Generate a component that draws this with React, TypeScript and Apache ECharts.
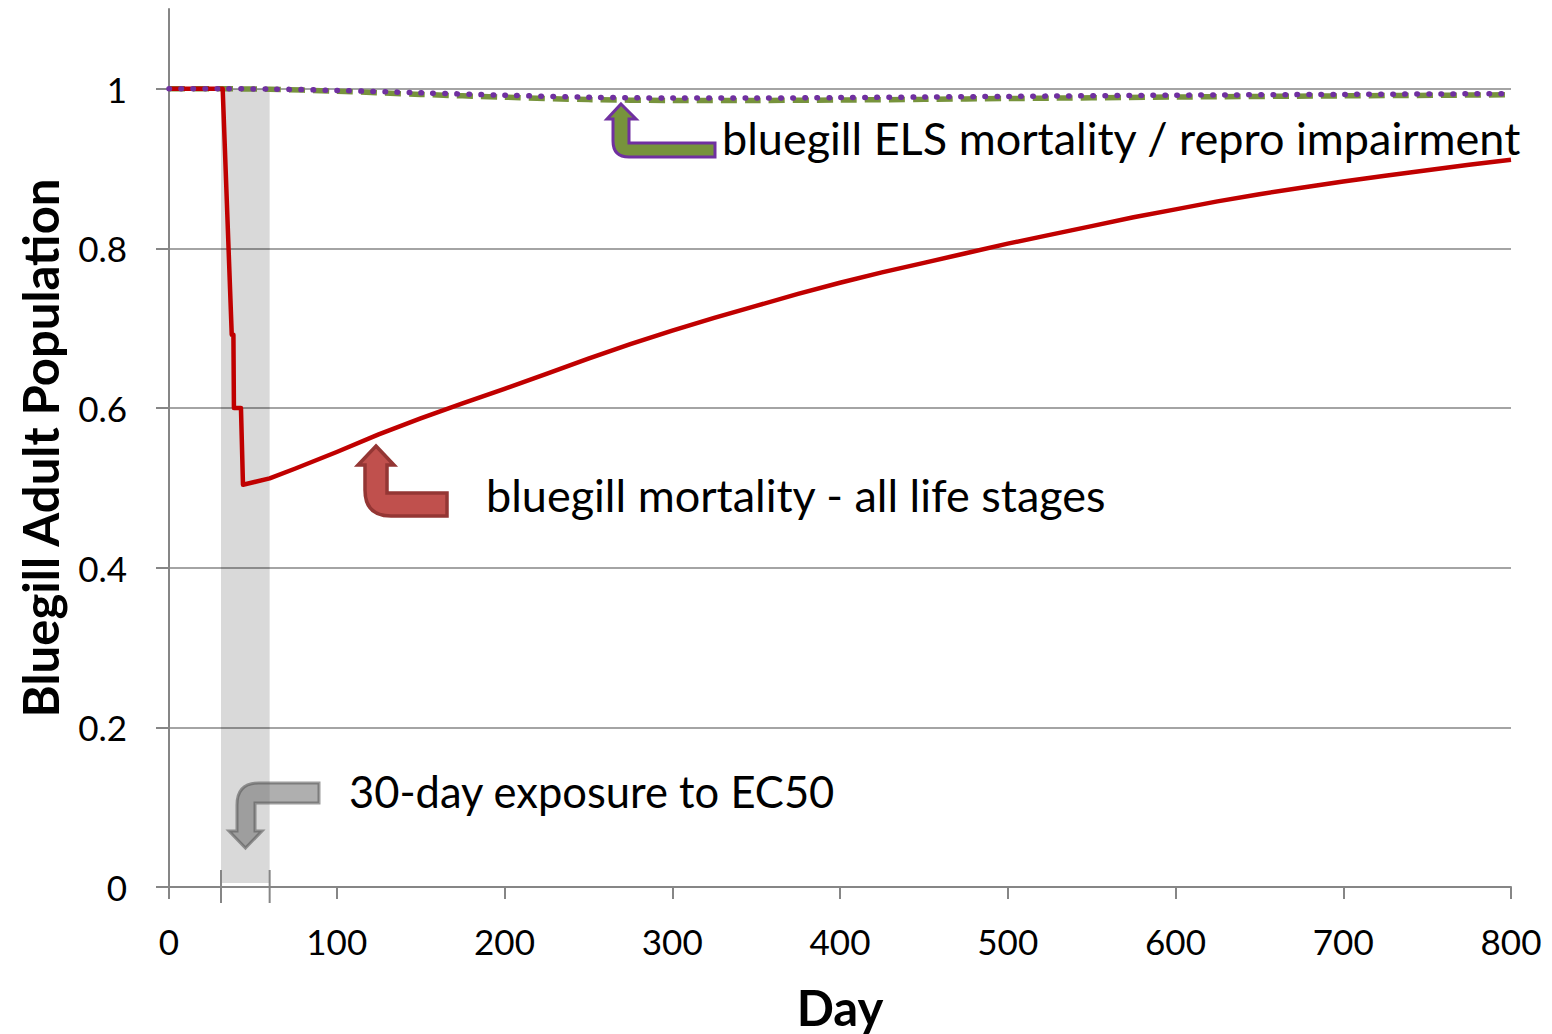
import React, { useEffect, useRef } from "react";
import * as echarts from "echarts";

// ---- data ----
const dayTicks = [0, 100, 200, 300, 400, 500, 600, 700, 800];
const popTicks = [0, 0.2, 0.4, 0.6, 0.8, 1];

const exposureDays = [31, 60];

const redDays = [0, 31, 32, 37.4, 38.4, 38.7, 42.9, 44.1, 60, 75, 100, 125, 150, 175, 200, 225, 250, 275, 300, 325, 350, 375, 400, 425, 450, 475, 500, 525, 550, 575, 600, 625, 650, 675, 700, 725, 750, 775, 800];
const redValues = [1, 1, 1, 0.692, 0.692, 0.6, 0.6, 0.504, 0.512, 0.524, 0.545, 0.567, 0.587, 0.606, 0.624, 0.643, 0.662, 0.68, 0.697, 0.713, 0.728, 0.743, 0.757, 0.77, 0.782, 0.794, 0.806, 0.817, 0.828, 0.839, 0.849, 0.859, 0.868, 0.876, 0.884, 0.891, 0.898, 0.905, 0.911];

const elsDays = [0, 31, 60, 100, 150, 200, 250, 300, 350, 400, 450, 500, 600, 700, 800];
const elsMortality = [1, 1, 0.9995, 0.997, 0.993, 0.9895, 0.9865, 0.9855, 0.9855, 0.986, 0.9868, 0.9878, 0.9897, 0.9912, 0.9925];
const reproImpairment = [1, 1, 0.9997, 0.998, 0.995, 0.992, 0.9895, 0.9885, 0.9885, 0.989, 0.9897, 0.9905, 0.992, 0.993, 0.994];

const labelEls = "bluegill ELS mortality / repro impairment";
const labelAll = "bluegill mortality - all life stages";
const labelExposure = "30-day exposure to EC50";

// ---- arrow shapes (annotation decorations) ----
const arrowUpGreen = "M621 104 L636 119 L629 119 L629 143 L715 143 L715 157 L629 157 Q613 157 613 141 L613 119 L607 119 Z";
const arrowUpRed = "M376 446 L394 465 L387 465 L387 493 L447 493 L447 516 L391 516 Q365 516 365 490 L365 465 L358 465 Z";
const arrowDownGrey = "M245.5 848 L262 831 L255 831 L255 803 L319 803 L319 783 L259 783 Q237 783 237 805 L237 831 L229 831 Z";

let registered = false;
function registerArrows() {
  if (registered) return;
  registered = true;
  echarts.graphic.registerShape("arrowGreen", echarts.graphic.extendPath(arrowUpGreen, {}));
  echarts.graphic.registerShape("arrowRed", echarts.graphic.extendPath(arrowUpRed, {}));
  echarts.graphic.registerShape("arrowGrey", echarts.graphic.extendPath(arrowDownGrey, {}));
}

const FONT = "Lato, 'Open Sans', sans-serif";
const AXIS_COLOR = "#868686";

export default function App() {
  const ref = useRef<HTMLDivElement>(null);

  useEffect(() => {
    document.body.style.margin = "0";
    registerArrows();
    const chart = echarts.init(ref.current!, null, { renderer: "svg" });

    const zip = (xs: number[], ys: number[]) => xs.map((x, i) => [x, ys[i]]);
    const annFont = 45;
    const expFont = 43.5;

    chart.setOption({
      animation: false,
      backgroundColor: "#ffffff",
      grid: { left: 169, right: 41, top: 9, bottom: 147, containLabel: false, outerBoundsMode: "none" },
      xAxis: {
        type: "value",
        min: dayTicks[0],
        max: dayTicks[dayTicks.length - 1],
        interval: 100,
        name: "Day",
        nameLocation: "middle",
        nameGap: 95,
        nameTextStyle: { fontFamily: FONT, fontWeight: "bold", fontSize: 49, color: "#000" },
        axisLine: { show: true, onZero: false, lineStyle: { color: AXIS_COLOR, width: 2 } },
        axisTick: { show: true, length: 12, lineStyle: { color: AXIS_COLOR, width: 2 } },
        axisLabel: { fontFamily: FONT, fontSize: 35, color: "#000", margin: 36 },
        splitLine: { show: false },
      },
      yAxis: {
        type: "value",
        min: popTicks[0],
        max: 1.1,
        interval: 0.2,
        name: "Bluegill Adult Population",
        nameLocation: "middle",
        nameGap: 105,
        nameTextStyle: { fontFamily: FONT, fontWeight: "bold", fontSize: 49, color: "#000" },
        axisLine: { show: true, lineStyle: { color: AXIS_COLOR, width: 2 } },
        axisTick: { show: true, length: 13, lineStyle: { color: AXIS_COLOR, width: 2 } },
        axisLabel: { fontFamily: FONT, fontSize: 35, color: "#000", margin: 42, showMaxLabel: false },
        splitLine: {
          show: true,
          lineStyle: {
            color: popTicks.map(() => AXIS_COLOR).concat(["rgba(0,0,0,0)"]),
            width: 1.5,
          },
        },
      },
      series: [
        {
          name: "ELS mortality",
          type: "line",
          data: zip(elsDays, elsMortality),
          symbol: "none",
          smooth: 0.3,
          z: 3,
          lineStyle: { color: "#77933C", width: 5.5, type: [16, 8], cap: "butt" },
          markArea: {
            silent: true,
            itemStyle: { color: "rgba(0,0,0,0.15)" },
            data: [[{ xAxis: exposureDays[0], yAxis: 0.005 }, { xAxis: exposureDays[1], yAxis: 1 }]],
          },
        },
        {
          name: "all life stages",
          type: "line",
          data: zip(redDays, redValues),
          symbol: "none",
          z: 4,
          lineStyle: { color: "#C00000", width: 4.5, join: "round" },
        },
        {
          name: "repro impairment",
          type: "line",
          data: zip(elsDays, reproImpairment),
          symbol: "none",
          smooth: 0.3,
          z: 5,
          lineStyle: { color: "#7030A0", width: 5.5, type: [0.5, 11.5], cap: "round" },
        },
        {
          name: "exposure ticks",
          type: "custom",
          z: 6,
          clip: false,
          data: exposureDays.map((d) => [d, 0]),
          renderItem: (params: any, api: any) => {
            const p = api.coord([api.value(0), api.value(1)]);
            return {
              type: "line",
              shape: { x1: p[0], y1: p[1] - 17, x2: p[0], y2: p[1] + 16 },
              style: { stroke: AXIS_COLOR, lineWidth: 2 },
            };
          },
        },
      ],
      graphic: [
        {
          type: "arrowGreen",
          x: 0, y: 0, z: 100,
          style: { fill: "#77933C", stroke: "#7030A0", lineWidth: 3 },
        },
        {
          type: "arrowRed",
          x: 0, y: 0, z: 100,
          style: { fill: "#C0504D", stroke: "#943634", lineWidth: 3.5 },
        },
        {
          type: "arrowGrey",
          x: 0, y: 0, z: 100,
          style: { fill: "rgba(110,110,110,0.55)", stroke: "rgba(90,90,90,0.6)", lineWidth: 3 },
        },
        {
          type: "text", x: 722, y: 155 - 0.38 * annFont, z: 100,
          style: { text: labelEls, fontFamily: FONT, fontSize: annFont, fill: "#000", verticalAlign: "middle", align: "left" },
        },
        {
          type: "text", x: 486, y: 512 - 0.38 * annFont, z: 100,
          style: { text: labelAll, fontFamily: FONT, fontSize: annFont, fill: "#000", verticalAlign: "middle", align: "left" },
        },
        {
          type: "text", x: 349, y: 808 - 0.38 * expFont, z: 100,
          style: { text: labelExposure, fontFamily: FONT, fontSize: expFont, fill: "#000", verticalAlign: "middle", align: "left" },
        },
      ],
    });

    return () => chart.dispose();
  }, []);

  return <div ref={ref} style={{ width: 1552, height: 1034 }} />;
}
